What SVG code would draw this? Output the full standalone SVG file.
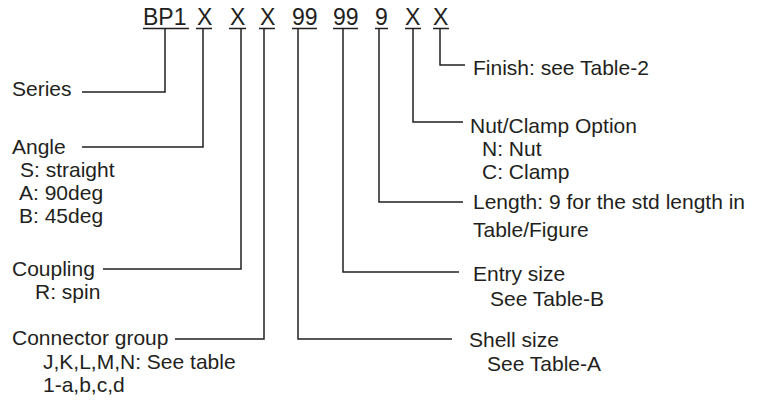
<svg xmlns="http://www.w3.org/2000/svg" width="760" height="400" viewBox="0 0 760 400">
  <style>
    text { font-family: "Liberation Sans", Arial, Helvetica, sans-serif; fill: #231f20; }
    .hd { font-size: 23px; }
    .lb { font-size: 21px; }
    .ul { stroke: #231f20; stroke-width: 1.3; fill: none; }
    .cn { stroke: #231f20; stroke-width: 1.5; fill: none; }
  </style>
  <rect width="760" height="400" fill="#ffffff"/>

  <g id="code">
    <text class="hd" x="143" y="25">BP1</text>
    <text class="hd" x="197" y="25">X</text>
    <text class="hd" x="230" y="25">X</text>
    <text class="hd" x="260" y="25">X</text>
    <text class="hd" x="292" y="25">99</text>
    <text class="hd" x="333" y="25">99</text>
    <text class="hd" x="375" y="25">9</text>
    <text class="hd" x="405" y="25">X</text>
    <text class="hd" x="433" y="25">X</text>
    <path class="ul" d="M143 28.5H189 M196 28.5H212 M229 28.5H246 M259 28.5H275 M292 28.5H317 M333 28.5H358 M375 28.5H388 M405 28.5H421 M433 28.5H449"/>
  </g>

  <g id="connectors">
    <polyline class="cn" points="165,28 165,92 82,92"/>
    <polyline class="cn" points="203,28 203,147 82,147"/>
    <polyline class="cn" points="241,28 241,269 103,269"/>
    <polyline class="cn" points="264,28 264,339 175,339"/>
    <polyline class="cn" points="298,28 298,339 452,339"/>
    <polyline class="cn" points="343,28 343,272 459,272"/>
    <polyline class="cn" points="379,28 379,202 463,202"/>
    <polyline class="cn" points="413,28 413,122 463,122"/>
    <polyline class="cn" points="440,28 440,65 465,65"/>
  </g>

  <g id="series">
    <text class="lb" x="12" y="96">Series</text>
  </g>
  <g id="angle">
    <text class="lb" x="12" y="154">Angle</text>
    <text class="lb" x="20" y="177">S: straight</text>
    <text class="lb" x="19" y="200">A: 90deg</text>
    <text class="lb" x="19" y="223">B: 45deg</text>
  </g>
  <g id="coupling">
    <text class="lb" x="12" y="276">Coupling</text>
    <text class="lb" x="35" y="299">R: spin</text>
  </g>
  <g id="connector-group">
    <text class="lb" x="12" y="345">Connector group</text>
    <text class="lb" x="43" y="369">J,K,L,M,N: See table</text>
    <text class="lb" x="43" y="392">1-a,b,c,d</text>
  </g>
  <g id="finish">
    <text class="lb" x="473" y="75">Finish: see Table-2</text>
  </g>
  <g id="nut-clamp">
    <text class="lb" x="470" y="133">Nut/Clamp Option</text>
    <text class="lb" x="482" y="156">N: Nut</text>
    <text class="lb" x="482" y="179">C: Clamp</text>
  </g>
  <g id="length">
    <text class="lb" x="473" y="209">Length: 9 for the std length in</text>
    <text class="lb" x="473" y="237">Table/Figure</text>
  </g>
  <g id="entry-size">
    <text class="lb" x="473" y="281">Entry size</text>
    <text class="lb" x="490" y="306">See Table-B</text>
  </g>
  <g id="shell-size">
    <text class="lb" x="469" y="347">Shell size</text>
    <text class="lb" x="487" y="371">See Table-A</text>
  </g>
</svg>
